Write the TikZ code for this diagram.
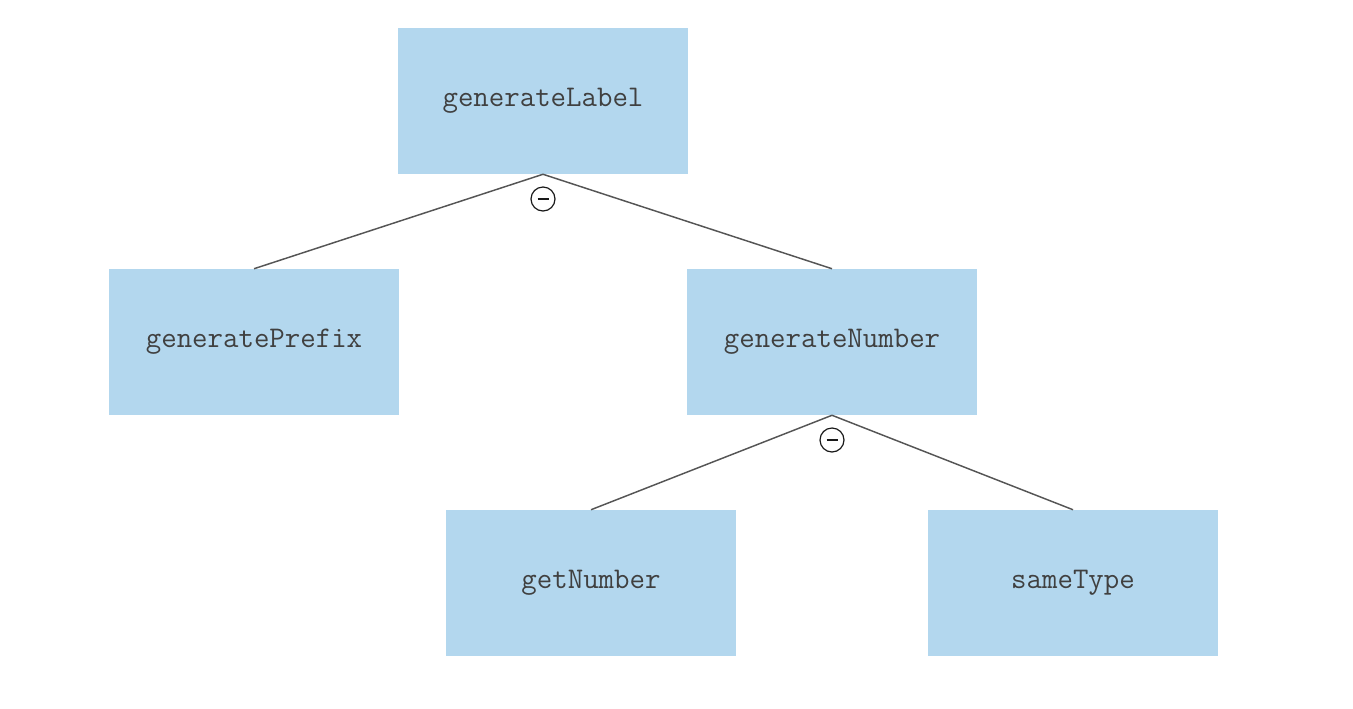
\documentclass[tikz,border=0pt]{standalone}
\usepackage{fontspec}
\usepackage{tikz}
\usetikzlibrary{calc}

\definecolor{boxblue}{HTML}{B3D7EE}
\definecolor{boxtext}{HTML}{404040}
\definecolor{edgegray}{HTML}{555555}

\tikzset{
  funbox/.style={fill=boxblue, inner sep=0pt, minimum width=217.5pt,
    minimum height=109.5pt, text=boxtext, font=\ttfamily\fontsize{22.5}{25}\selectfont},
  edge/.style={edgegray, line width=1.1pt},
  andmark/.style={circle, draw=black!90, line width=0.9pt, minimum size=18pt, inner sep=0pt}
}

\begin{document}
\begin{tikzpicture}[x=0.75pt, y=-0.75pt]
  % page frame
  \useasboundingbox (0,0) rectangle (1353,708);

  % function boxes
  \node[funbox] (label)  at (543,101) {generateLabel};
  \node[funbox] (prefix) at (254,342) {generatePrefix};
  \node[funbox] (number) at (832,342) {generateNumber};
  \node[funbox] (getnum) at (591,583) {getNumber};
  \node[funbox] (same)   at (1073,583) {sameType};

  % call edges
  \draw[edge] (label.south) -- (prefix.north);
  \draw[edge] (label.south) -- (number.north);
  \draw[edge] (number.south) -- (getnum.north);
  \draw[edge] (number.south) -- (same.north);

  % sequence markers
  \node[andmark] (seqa) at (543,199) {};
  \node[andmark] (seqb) at (832,440) {};
  \foreach \m in {seqa, seqb} {
    \draw[black!90, line width=1.3pt] ($(\m.center)+(-5.5,0)$) -- ($(\m.center)+(5.5,0)$);
  }
\end{tikzpicture}
\end{document}
